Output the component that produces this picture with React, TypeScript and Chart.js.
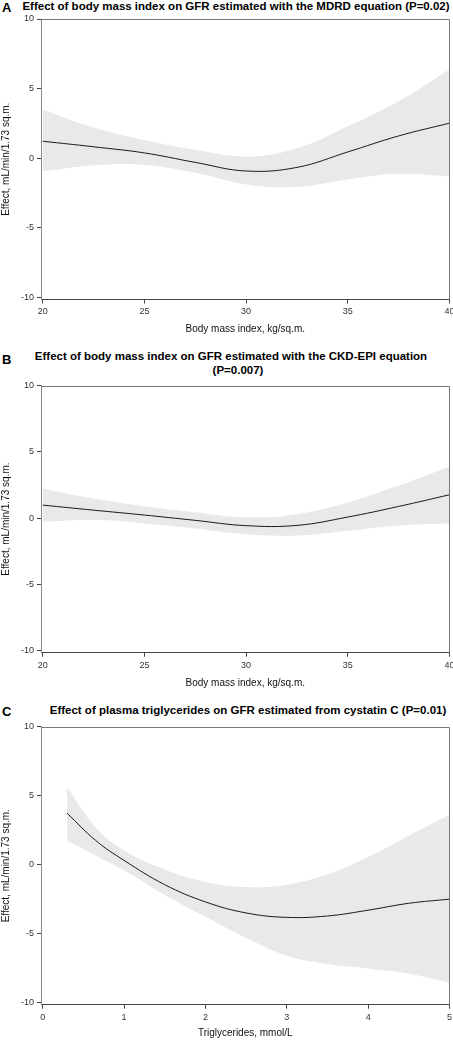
import React, { useEffect, useRef } from "react";
import { Chart, registerables } from "chart.js";

Chart.register(...registerables);

// ---- Data ----
const bmiX = [20, 22.5, 25, 27.5, 30, 32.5, 35, 37.5, 40];
const mdrdFit = [1.22, 0.82, 0.38, -0.3, -0.92, -0.66, 0.45, 1.6, 2.52];
const mdrdUpper = [3.5, 2.2, 1.3, 0.6, 0.12, 0.72, 2.3, 4.1, 6.38];
const mdrdLower = [-0.95, -0.52, -0.48, -1.05, -1.88, -2.05, -1.53, -1.12, -1.3];

const ckdFit = [0.98, 0.6, 0.23, -0.17, -0.57, -0.55, 0.08, 0.88, 1.76];
const ckdUpper = [2.24, 1.48, 0.9, 0.45, 0.05, 0.3, 1.18, 2.45, 3.9];
const ckdLower = [-0.28, -0.12, -0.4, -0.78, -1.22, -1.32, -0.95, -0.55, -0.4];

const tgX = [0.3, 0.65, 1, 1.5, 2, 2.5, 3, 3.5, 4, 4.5, 5];
const cysFit = [3.73, 1.76, 0.31, -1.45, -2.7, -3.5, -3.82, -3.72, -3.3, -2.8, -2.5];
const cysUpper = [5.61, 2.72, 1.04, -0.35, -1.25, -1.62, -1.45, -0.7, 0.55, 2.1, 3.61];
const cysLower = [1.76, 0.67, -0.41, -2.2, -3.78, -5.3, -6.6, -7.2, -7.52, -7.9, -8.55];

const bmiTicks = [20, 25, 30, 35, 40];
const tgTicks = [0, 1, 2, 3, 4, 5];
const effectTicks = [-10, -5, 0, 5, 10];

const yTitle = "Effect, mL/min/1.73 sq.m.";
const FONT = "'Liberation Sans', Arial, Helvetica, sans-serif";

const framePlugin = {
  id: "frame",
  afterDraw(chart: any) {
    const { ctx, chartArea: a } = chart;
    const t = Math.round(a.top) + 0.5;
    const r = Math.round(a.right) - 0.5;
    ctx.save();
    ctx.strokeStyle = "#777";
    ctx.lineWidth = 1;
    ctx.beginPath();
    ctx.moveTo(a.left, t);
    ctx.lineTo(r, t);
    ctx.lineTo(r, a.bottom);
    ctx.stroke();
    ctx.restore();
  },
};

type PanelProps = {
  xs: number[];
  fit: number[];
  upper: number[];
  lower: number[];
  xTicks: number[];
  xMin: number;
  xMax: number;
  xTitle: string;
  top: number;
  height: number;
  padTop: number;
  xAxisHeight: number;
  titlePadBottom: number;
};

function Panel(p: PanelProps) {
  const ref = useRef<HTMLCanvasElement | null>(null);
  useEffect(() => {
    if (!ref.current) return;
    const pts = (ys: number[]) => p.xs.map((x, i) => ({ x, y: ys[i] }));
    const chart = new Chart(ref.current, {
      type: "line",
      data: {
        datasets: [
          {
            label: "fit",
            data: pts(p.fit),
            borderColor: "#1a1a1a",
            borderWidth: 1,
            pointRadius: 0,
            fill: false,
            tension: 0.4,
          },
          {
            label: "upper",
            data: pts(p.upper),
            borderColor: "rgba(0,0,0,0)",
            borderWidth: 0,
            backgroundColor: "#e9e9e9",
            pointRadius: 0,
            fill: "+1",
            tension: 0.4,
          },
          {
            label: "lower",
            data: pts(p.lower),
            borderColor: "rgba(0,0,0,0)",
            borderWidth: 0,
            pointRadius: 0,
            fill: false,
            tension: 0.4,
          },
        ],
      },
      options: {
        animation: false,
        responsive: false,
        events: [],
        layout: { padding: { top: p.padTop, left: 0, right: 3.5, bottom: 0 } },
        plugins: { legend: { display: false }, tooltip: { enabled: false } },
        scales: {
          x: {
            type: "linear",
            min: p.xMin,
            max: p.xMax,
            afterBuildTicks: (s: any) => {
              s.ticks = p.xTicks.map((v) => ({ value: v }));
            },
            afterFit: (s: any) => {
              s.height = p.xAxisHeight;
              s.paddingLeft = 0;
              s.paddingRight = 0;
            },
            grid: {
              display: true,
              drawOnChartArea: false,
              drawTicks: true,
              tickLength: 4,
              color: "#444",
            },
            border: { display: true, color: "#444" },
            ticks: {
              padding: 3,
              maxRotation: 0,
              autoSkip: false,
              color: "#333",
              font: { family: FONT, size: 9 },
            },
            title: {
              display: true,
              text: p.xTitle,
              color: "#111",
              font: { family: FONT, size: 10 },
              padding: { top: 0, bottom: p.titlePadBottom },
            },
          },
          y: {
            type: "linear",
            min: -10.15,
            max: 10,
            afterBuildTicks: (s: any) => {
              s.ticks = effectTicks.map((v) => ({ value: v }));
            },
            afterFit: (s: any) => {
              s.width = 41;
              s.paddingTop = 0;
              s.paddingBottom = 0;
            },
            grid: {
              display: true,
              drawOnChartArea: false,
              drawTicks: true,
              tickLength: 4,
              color: "#444",
            },
            border: { display: true, color: "#888" },
            ticks: {
              padding: 3,
              autoSkip: false,
              color: "#333",
              font: { family: FONT, size: 9 },
            },
            title: {
              display: true,
              text: yTitle,
              color: "#111",
              font: { family: FONT, size: 10 },
              padding: 0,
            },
          },
        },
      },
      plugins: [framePlugin],
    } as any);
    return () => chart.destroy();
  }, []);
  return (
    <canvas
      ref={ref}
      width={453}
      height={p.height}
      style={{ position: "absolute", left: 0, top: p.top, width: 453, height: p.height }}
    />
  );
}

const letterStyle: React.CSSProperties = {
  position: "absolute",
  left: 2,
  fontFamily: FONT,
  fontWeight: "bold",
  fontSize: 13,
  lineHeight: "14px",
  color: "#000",
};

function titleStyle(center: number, top: number): React.CSSProperties {
  return {
    position: "absolute",
    left: center - 300,
    width: 600,
    top,
    textAlign: "center",
    fontFamily: FONT,
    fontWeight: "bold",
    fontSize: 11.5,
    lineHeight: "13px",
    color: "#000",
    whiteSpace: "nowrap",
  };
}

export default function App() {
  return (
    <div
      style={{
        position: "fixed",
        left: 0,
        top: 0,
        width: 453,
        height: 1040,
        background: "#fff",
        overflow: "hidden",
      }}
    >
      <div style={{ ...letterStyle, top: 1 }}>A</div>
      <div style={titleStyle(236, 0)}>
        Effect of body mass index on GFR estimated with the MDRD equation (P=0.02)
      </div>
      <Panel
        xs={bmiX}
        fit={mdrdFit}
        upper={mdrdUpper}
        lower={mdrdLower}
        xTicks={bmiTicks}
        xMin={19.916}
        xMax={40}
        xTitle="Body mass index, kg/sq.m."
        top={0}
        height={340}
        padTop={19}
        xAxisHeight={40.5}
        titlePadBottom={5}
      />

      <div style={{ ...letterStyle, top: 353 }}>B</div>
      <div style={titleStyle(231, 350)}>
        Effect of body mass index on GFR estimated with the CKD-EPI equation
      </div>
      <div style={titleStyle(238, 364)}>(P=0.007)</div>
      <Panel
        xs={bmiX}
        fit={ckdFit}
        upper={ckdUpper}
        lower={ckdLower}
        xTicks={bmiTicks}
        xMin={19.916}
        xMax={40}
        xTitle="Body mass index, kg/sq.m."
        top={378}
        height={316}
        padTop={7.5}
        xAxisHeight={41.3}
        titlePadBottom={5}
      />

      <div style={{ ...letterStyle, top: 705 }}>C</div>
      <div style={titleStyle(248, 704)}>
        Effect of plasma triglycerides on GFR estimated from cystatin C (P=0.01)
      </div>
      <Panel
        xs={tgX}
        fit={cysFit}
        upper={cysUpper}
        lower={cysLower}
        xTicks={tgTicks}
        xMin={-0.021}
        xMax={5}
        xTitle="Triglycerides, mmol/L"
        top={720}
        height={320}
        padTop={6.7}
        xAxisHeight={35.3}
        titlePadBottom={0.5}
      />
    </div>
  );
}
